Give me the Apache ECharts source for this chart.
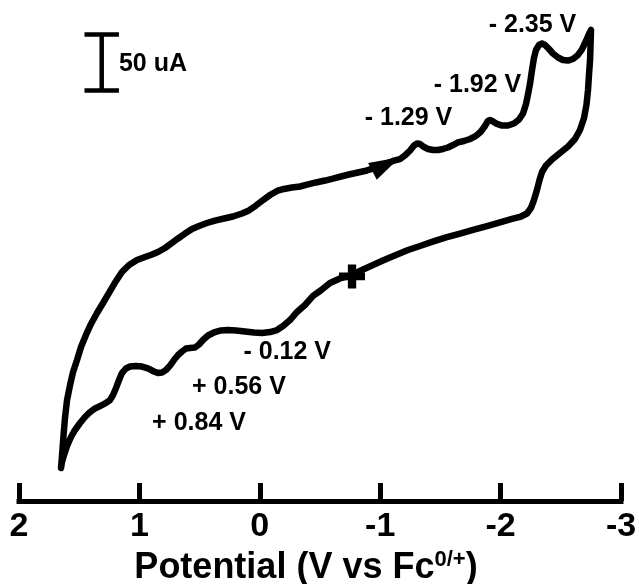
<!DOCTYPE html>
<html>
<head>
<meta charset="utf-8">
<title>Cyclic voltammogram</title>
<script src="https://cdn.jsdelivr.net/npm/echarts@6/dist/echarts.min.js"></script>
<style>
  html, body { margin: 0; padding: 0; background: #fff; }
  #chart { width: 639px; height: 584px; }
</style>
</head>
<body>
<div id="chart"></div>
<script>
// Potential in V vs Fc(0/+), current in uA (arbitrary baseline, current axis hidden)

// Sweep 1: from the starting point (cross) toward positive potential, lower branch
const sweepOutPotential = [-0.766, -0.666, -0.583, -0.500, -0.442, -0.375, -0.309, -0.251, -0.193, -0.143,
  -0.085, -0.018, 0.048, 0.123, 0.198, 0.264, 0.322, 0.380, 0.430, 0.472, 0.505, 0.538, 0.580, 0.613,
  0.646, 0.679, 0.713, 0.746, 0.779, 0.812, 0.846, 0.879, 0.929, 0.978, 1.028, 1.078, 1.111, 1.145,
  1.169, 1.194, 1.219, 1.244, 1.277, 1.319, 1.369, 1.410, 1.452, 1.493, 1.535, 1.568, 1.601, 1.626,
  1.643, 1.651];
const sweepOutCurrent = [201.7, 198.6, 194.6, 187.4, 183.0, 174.9, 168.7, 161.5, 156.2, 152.6,
  150.8, 149.9, 150.4, 151.3, 152.2, 152.6, 152.2, 150.4, 147.7, 143.7, 139.7, 137.0, 136.6, 136.1,
  133.4, 130.3, 125.8, 120.9, 116.9, 114.7, 114.2, 115.6, 118.3, 120.0, 120.5, 120.0, 118.3, 114.2,
  108.0, 100.9, 94.6, 90.1, 87.5, 85.2, 82.6, 79.4, 75.0, 69.6, 63.4, 57.1, 49.1, 41.1,
  34.8, 29.5];

// Sweep 2: forward scan toward negative potential, upper branch
const sweepForwardPotential = [1.647, 1.639, 1.630, 1.618, 1.601, 1.576, 1.551, 1.518, 1.485, 1.444,
  1.402, 1.352, 1.302, 1.244, 1.194, 1.145, 1.086, 1.020, 0.953, 0.895, 0.846, 0.787, 0.729, 0.679,
  0.621, 0.563, 0.505, 0.439, 0.372, 0.297, 0.223, 0.148, 0.090, 0.032, -0.027, -0.085, -0.143,
  -0.201, -0.267, -0.334, -0.400, -0.467, -0.542, -0.608, -0.674, -0.741, -0.816, -0.890, -0.965,
  -1.040, -1.106, -1.164, -1.206, -1.248, -1.281, -1.306, -1.331, -1.364, -1.397, -1.439, -1.480,
  -1.522, -1.563, -1.605, -1.646, -1.696, -1.746, -1.796, -1.837, -1.870, -1.895, -1.912, -1.937,
  -1.970, -2.012, -2.061, -2.111, -2.153, -2.186, -2.211, -2.228, -2.244, -2.261, -2.277, -2.294,
  -2.319, -2.344, -2.369, -2.402, -2.435, -2.477, -2.518, -2.560, -2.601, -2.643, -2.676, -2.709,
  -2.734, -2.751];
const sweepForwardCurrent = [34.8, 45.5, 58.9, 74.1, 90.1, 103.5, 115.1, 125.8, 137.4, 148.2,
  158.0, 167.8, 176.7, 187.4, 196.4, 204.4, 210.6, 215.1, 217.8, 220.0, 222.2, 225.8, 230.3, 234.3,
  238.7, 242.8, 245.4, 248.1, 250.3, 252.1, 253.9, 256.6, 259.3, 263.7, 268.6, 273.1, 276.7,
  278.5, 279.8, 280.7, 282.5, 284.3, 286.0, 287.8, 289.6, 291.4, 293.2, 295.0, 297.6,
  300.8, 303.5, 305.2, 308.4, 312.8, 317.3, 319.1, 318.6, 315.9, 314.2, 313.3, 313.3,
  314.2, 315.5, 317.7, 320.0, 321.3, 323.1, 325.8, 329.8, 334.7, 339.2, 340.0, 338.7,
  336.5, 335.1, 335.1, 336.9, 340.5, 345.8, 354.3, 363.2, 372.2, 384.7, 395.4, 402.5,
  407.0, 408.3, 407.0, 403.4, 399.4, 395.8, 393.6, 393.1, 394.5, 398.1, 403.0, 410.6,
  416.8, 420.4];

// Sweep 3: reverse scan back to the starting point
const sweepReturnPotential = [-2.747, -2.743, -2.734, -2.726, -2.713, -2.693, -2.659, -2.618, -2.560,
  -2.493, -2.427, -2.377, -2.344, -2.323, -2.302, -2.277, -2.252, -2.219, -2.169, -2.095, -1.995,
  -1.887, -1.771, -1.663, -1.547, -1.430, -1.331, -1.231, -1.131, -1.032, -0.940, -0.849, -0.766];
const sweepReturnCurrent = [407.0, 393.6, 380.2, 366.8, 353.4, 341.8, 331.1, 323.1, 316.4,
  310.6, 304.8, 299.4, 293.6, 286.5, 277.6, 268.6, 261.5, 256.6, 253.9, 251.7, 248.6,
  245.4, 241.9, 238.7, 235.2, 231.2, 227.6, 224.0, 219.6, 215.1, 210.6, 206.2, 201.7];

// Start of the scan and direction arrow on the forward sweep
const startPoint = [-0.766, 200.4];
const arrowPoint = [-1.050, 300.5];

// Peak annotations: text and where it sits (potential, current)
const peakLabelText = ['- 2.35 V', '- 1.92 V', '- 1.29 V', '- 0.12 V', '+ 0.56 V', '+ 0.84 V'];
const peakLabelPotential = [-2.265, -1.808, -1.235, -0.228, 0.173, 0.505];
const peakLabelCurrent = [424.8, 371.3, 341.8, 133.2, 102.0, 69.9];

// Current scale bar
const scaleBarCurrent = 50;          // uA
const scaleBarPotential = 1.313;     // where the bar stands
const scaleBarBase = 366.3;          // lower end, uA
const scaleBarCapHalf = 0.143;       // half width of the end caps, V
const scaleBarText = '50 uA';
const scaleBarTextAt = [0.887, 390.0];

const xTickMin = -3, xTickMax = 2, xTickStep = 1;

function pairs(xs, ys) { return xs.map((x, i) => [x, ys[i]]); }

const cvData = pairs(sweepOutPotential, sweepOutCurrent)
  .concat(pairs(sweepForwardPotential, sweepForwardCurrent))
  .concat(pairs(sweepReturnPotential, sweepReturnCurrent));

const barTop = scaleBarBase + scaleBarCurrent;
const scaleBarData = [
  [scaleBarPotential + scaleBarCapHalf, barTop],
  [scaleBarPotential - scaleBarCapHalf, barTop],
  [scaleBarPotential, barTop],
  [scaleBarPotential, scaleBarBase],
  [scaleBarPotential + scaleBarCapHalf, scaleBarBase],
  [scaleBarPotential - scaleBarCapHalf, scaleBarBase]
];

const labelData = peakLabelText.map((t, i) => ({ value: [peakLabelPotential[i], peakLabelCurrent[i]], name: t }))
  .concat([{ value: scaleBarTextAt, name: scaleBarText }]);

const FONT = '"Liberation Sans", Arial, Helvetica, sans-serif';

const chart = echarts.init(document.getElementById('chart'), null, { renderer: 'canvas' });
chart.setOption({
  backgroundColor: '#ffffff',
  animation: false,
  grid: { left: 19, right: 18, top: 8, bottom: 83, containLabel: false, outerBoundsMode: 'none' },
  xAxis: {
    type: 'value',
    min: xTickMin,
    max: xTickMax,
    interval: xTickStep,
    inverse: true,
    name: 'Potential (V vs Fc{sup|0/+})',
    nameLocation: 'middle',
    nameGap: 46,
    nameTextStyle: {
      color: '#000',
      fontFamily: FONT,
      fontWeight: 'bold',
      fontSize: 36,
      padding: [0, 28, 0, 0],
      rich: {
        sup: { fontFamily: FONT, fontWeight: 'bold', fontSize: 22, color: '#000', verticalAlign: 'top', padding: [0, 0, 16, 0] }
      }
    },
    axisLine: { onZero: false, lineStyle: { color: '#000', width: 5, cap: 'square' } },
    axisTick: { inside: true, length: 18, lineStyle: { color: '#000', width: 5 } },
    axisLabel: { color: '#000', fontFamily: FONT, fontWeight: 'bold', fontSize: 34, margin: 9 },
    splitLine: { show: false }
  },
  yAxis: {
    type: 'value',
    min: 0,
    max: 440,
    show: false
  },
  series: [
    {
      type: 'line',
      data: cvData,
      showSymbol: false,
      symbol: 'none',
      lineStyle: { color: '#000', width: 6.5, join: 'round', cap: 'round' },
      z: 3
    },
    {
      type: 'line',
      data: scaleBarData,
      showSymbol: false,
      symbol: 'none',
      lineStyle: { color: '#000', width: 4.5, join: 'miter' },
      z: 3
    },
    {
      type: 'scatter',
      data: [startPoint],
      symbol: 'path://M3.4,0H6.6V3.4H10V6.6H6.6V10H3.4V6.6H0V3.4H3.4Z',
      symbolSize: [26, 24],
      itemStyle: { color: '#000', opacity: 1 },
      z: 4
    },
    {
      type: 'scatter',
      data: [arrowPoint],
      symbol: 'triangle',
      symbolSize: [19, 31],
      symbolRotate: -63,
      itemStyle: { color: '#000', opacity: 1 },
      z: 4
    },
    {
      type: 'scatter',
      data: labelData,
      symbolSize: 0,
      itemStyle: { opacity: 1 },
      label: {
        show: true,
        position: 'inside',
        formatter: p => p.name,
        color: '#000',
        opacity: 1,
        fontFamily: FONT,
        fontWeight: 'bold',
        fontSize: 25,
        align: 'center',
        verticalAlign: 'middle'
      },
      z: 5
    }
  ]
});
</script>
</body>
</html>
